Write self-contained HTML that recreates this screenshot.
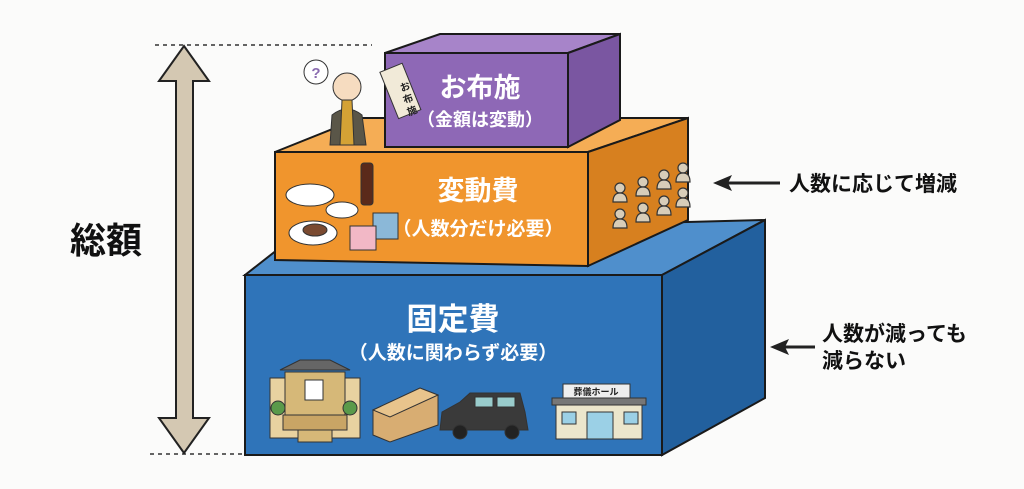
<!DOCTYPE html>
<html><head><meta charset="utf-8"><style>
body{margin:0;background:#fbfbfa;}
svg{display:block}
text{font-family:"Liberation Sans","Noto Sans CJK JP",sans-serif;font-weight:bold}
</style></head><body>
<svg width="1024" height="489" viewBox="0 0 1024 489" xmlns="http://www.w3.org/2000/svg">
<defs>
<g id="p"><circle cx="0" cy="0" r="5"/><path d="M-7,14 Q-7,5 0,5 Q7,5 7,14 Z"/></g>
</defs>
<rect width="1024" height="489" fill="#fbfbfa"/>
<line x1="155" y1="45" x2="372" y2="45" stroke="#333" stroke-width="1.5" stroke-dasharray="4,4"/>
<line x1="150" y1="454" x2="243" y2="454" stroke="#333" stroke-width="1.5" stroke-dasharray="4,4"/>
<polygon points="184,46 209,81 193,81 193,418 209,418 184,453 159,418 176,418 176,81 159,81" fill="#d4c8b2" stroke="#222" stroke-width="2"/>
<text x="106" y="253" font-size="36" text-anchor="middle" fill="#111">総額</text>

<polygon points="245,275 300,232 765,220 662,275" fill="#4f8fcc" stroke="#1a1a1a" stroke-width="2"/>
<polygon points="662,275 765,220 765,398 662,455" fill="#22609e" stroke="#1a1a1a" stroke-width="2"/>
<rect x="245" y="275" width="417" height="180" fill="#2f74b9" stroke="#1a1a1a" stroke-width="2"/>
<text x="453" y="330" font-size="31" text-anchor="middle" fill="#fff">固定費</text>
<text x="453" y="359" font-size="19" text-anchor="middle" fill="#fff">（人数に関わらず必要）</text>
<g stroke="#333" stroke-width="1">
<polygon points="280,370 300,360 330,360 350,370" fill="#666"/>
<rect x="270" y="378" width="90" height="60" fill="#e8d2a0"/>
<rect x="285" y="372" width="60" height="50" fill="#d6b878"/>
<rect x="305" y="380" width="18" height="20" fill="#fff"/>
<rect x="283" y="415" width="64" height="15" fill="#c9a565"/>
<rect x="298" y="430" width="34" height="12" fill="#d6b878"/>
<circle cx="278" cy="408" r="7" fill="#5a9a4a"/>
<circle cx="350" cy="408" r="7" fill="#5a9a4a"/>
<polygon points="373,410 420,388 438,395 438,425 390,442 373,435" fill="#d8ad72"/>
<polygon points="373,410 420,388 438,395 390,417" fill="#e8c48c"/>
<path d="M440,430 L442,412 L460,402 L470,393 L520,393 L525,412 L528,430 Z" fill="#3a3a3a"/>
<rect x="475" y="397" width="18" height="10" fill="#9cc"/>
<rect x="497" y="397" width="18" height="10" fill="#9cc"/>
<circle cx="460" cy="432" r="7" fill="#222"/>
<circle cx="512" cy="432" r="7" fill="#222"/>
<rect x="563" y="384" width="67" height="14" fill="#eee"/>
<rect x="552" y="398" width="94" height="7" fill="#777"/>
<rect x="556" y="405" width="86" height="34" fill="#ece6cc"/>
<rect x="587" y="412" width="26" height="27" fill="#9bd0e6"/>
<rect x="562" y="412" width="14" height="12" fill="#9bd0e6"/>
<rect x="624" y="412" width="14" height="12" fill="#9bd0e6"/>
</g>
<text x="596" y="395" font-size="9" text-anchor="middle" fill="#222">葬儀ホール</text>

<polygon points="275,152 360,118 688,118 588,152" fill="#f5ad55" stroke="#1a1a1a" stroke-width="2"/>
<polygon points="588,152 688,118 688,220 588,266" fill="#d7801f" stroke="#1a1a1a" stroke-width="2"/>
<polygon points="275,152 588,152 588,266 275,260" fill="#f0952d" stroke="#1a1a1a" stroke-width="2"/>
<text x="478" y="200" font-size="27" text-anchor="middle" fill="#fff">変動費</text>
<text x="478" y="235" font-size="19" text-anchor="middle" fill="#fff">（人数分だけ必要）</text>
<g stroke="#333" stroke-width="1">
<ellipse cx="310" cy="195" rx="24" ry="11" fill="#fff"/>
<ellipse cx="342" cy="210" rx="16" ry="8" fill="#fff"/>
<ellipse cx="313" cy="233" rx="24" ry="12" fill="#fff"/>
<ellipse cx="315" cy="230" rx="12" ry="6" fill="#7a4a30"/>
<rect x="361" y="163" width="12" height="42" rx="3" fill="#5a2a1a"/>
<rect x="373" y="213" width="25" height="26" fill="#8bb8d8"/>
<rect x="350" y="226" width="26" height="24" fill="#f2b8c6"/>
</g>
<g fill="#d8cdb8" stroke="#333" stroke-width="1.2">
<use href="#p" x="620" y="188"/><use href="#p" x="643" y="182"/><use href="#p" x="664" y="175"/><use href="#p" x="683" y="168"/>
<use href="#p" x="620" y="214"/><use href="#p" x="643" y="208"/><use href="#p" x="664" y="201"/><use href="#p" x="683" y="193"/>
</g>

<polygon points="385,53 440,34 620,34 568,53" fill="#a784c9" stroke="#1a1a1a" stroke-width="2"/>
<polygon points="568,53 620,34 620,120 568,147" fill="#7a56a1" stroke="#1a1a1a" stroke-width="2"/>
<rect x="385" y="53" width="183" height="94" fill="#8e68b6" stroke="#1a1a1a" stroke-width="2"/>
<text x="480" y="97" font-size="27" text-anchor="middle" fill="#fff">お布施</text>
<text x="480" y="126" font-size="18" text-anchor="middle" fill="#fff">（金額は変動）</text>
<g stroke="#333" stroke-width="1">
<path d="M330,145 L332,115 Q347,103 362,115 L366,145 Z" fill="#5a5648"/>
<circle cx="347" cy="87" r="14" fill="#f6dcc0"/>
<polygon points="342,100 352,100 354,145 340,145" fill="#d4a235"/>
<circle cx="316" cy="72" r="12" fill="#fff"/>
<g transform="rotate(-22 400 90)"><rect x="388" y="66" width="24" height="50" fill="#f1ead8"/></g>
</g>
<text x="316" y="78" font-size="15" text-anchor="middle" fill="#8a6bb0">?</text>
<text x="401" y="92" font-size="10" fill="#222" transform="rotate(-22 401 90)">お</text>
<text x="404" y="104" font-size="10" fill="#222" transform="rotate(-22 404 102)">布</text>
<text x="408" y="116" font-size="10" fill="#222" transform="rotate(-22 408 114)">施</text>

<line x1="728" y1="183" x2="780" y2="183" stroke="#222" stroke-width="3"/>
<polygon points="713,183 732,175 728,183 732,191" fill="#222"/>
<text x="789" y="191" font-size="21" fill="#111">人数に応じて増減</text>
<line x1="785" y1="347" x2="815" y2="347" stroke="#222" stroke-width="3"/>
<polygon points="770,347 789,339 785,347 789,355" fill="#222"/>
<text x="822" y="341" font-size="21" fill="#111">人数が減っても</text>
<text x="822" y="368" font-size="21" fill="#111">減らない</text>
</svg>
</body></html>
